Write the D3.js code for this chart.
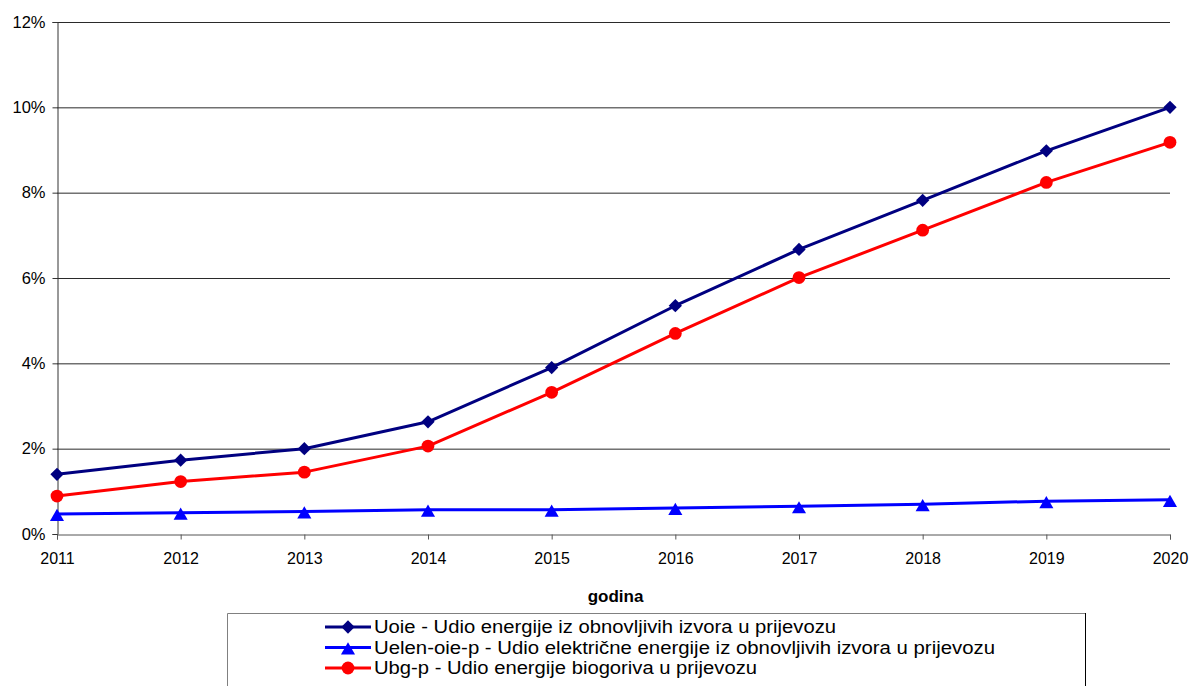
<!DOCTYPE html>
<html>
<head>
<meta charset="utf-8">
<script src="https://cdn.jsdelivr.net/npm/d3@7"></script>
<style>
  html, body { margin: 0; padding: 0; background: #fff; }
  svg { display: block; font-family: "Liberation Sans", Arial, sans-serif; }
</style>
</head>
<body>
<svg id="chart" width="1191" height="686"></svg>
<script>
// Years on the x axis
const years = ["2011", "2012", "2013", "2014", "2015", "2016", "2017", "2018", "2019", "2020"];

// Shares in percent
const uoie     = [1.40, 1.73, 2.00, 2.63, 3.90, 5.35, 6.67, 7.82, 8.98, 10.00];
const uelenOie = [0.47, 0.50, 0.53, 0.57, 0.57, 0.61, 0.65, 0.70, 0.77, 0.80];
const ubg      = [0.89, 1.23, 1.45, 2.06, 3.32, 4.70, 6.01, 7.12, 8.24, 9.18];

const yTicks = [0, 2, 4, 6, 8, 10, 12];

const seriesNames = [
  "Uoie - Udio energije iz obnovljivih izvora u prijevozu",
  "Uelen-oie-p - Udio električne energije iz obnovljivih izvora u prijevozu",
  "Ubg-p - Udio energije biogoriva u prijevozu"
];

const series = [
  { name: seriesNames[0], values: uoie,     color: "#000080", symbol: "diamond",  labelWidth: 462 },
  { name: seriesNames[1], values: uelenOie, color: "#0000ff", symbol: "triangle", labelWidth: 621 },
  { name: seriesNames[2], values: ubg,      color: "#ff0000", symbol: "circle",   labelWidth: 383 }
];

const svg = d3.select("#chart");
const plot = { left: 57, right: 1170, top: 22, bottom: 534 };

const x = d3.scalePoint().domain(years).range([plot.left, plot.right]).padding(0);
const y = d3.scaleLinear().domain([0, 12]).range([plot.bottom, plot.top]);

// Horizontal gridlines
svg.append("g")
  .selectAll("line")
  .data(yTicks.filter(d => d > 0))
  .join("line")
  .attr("x1", plot.left).attr("x2", plot.right)
  .attr("y1", d => y(d) + 0.5).attr("y2", d => y(d) + 0.5)
  .attr("stroke", "#2a2a2a").attr("stroke-width", 1);

// Y axis
const yAxis = svg.append("g")
  .attr("transform", `translate(${plot.left + 0.5},0)`)
  .call(d3.axisLeft(y).tickValues(yTicks).tickFormat(d => d + "%").tickSize(5).tickPadding(7));
yAxis.select(".domain").attr("stroke", "#333");
yAxis.selectAll(".tick line").attr("stroke", "#333");
yAxis.selectAll("text").attr("font-size", 16.5).attr("fill", "#000")
  .attr("font-family", "'Liberation Sans', Arial, sans-serif");

// X axis
const xAxis = svg.append("g")
  .attr("transform", `translate(0,${plot.bottom + 0.5})`)
  .call(d3.axisBottom(x).tickSize(5).tickPadding(13));
xAxis.select(".domain").attr("stroke", "#555");
xAxis.selectAll(".tick line").attr("stroke", "#555");
xAxis.selectAll("text").attr("font-size", 16).attr("fill", "#000")
  .attr("font-family", "'Liberation Sans', Arial, sans-serif");

// Axis title
svg.append("text")
  .attr("x", (plot.left + plot.right) / 2 + 2)
  .attr("y", 602)
  .attr("text-anchor", "middle")
  .attr("font-size", 17).attr("font-weight", "bold")
  .text("godina");

function markerPath(kind) {
  if (kind === "diamond") return d3.symbol(d3.symbolSquare, 88)();
  if (kind === "triangle") return d3.symbol(d3.symbolTriangle, 86)();
  return d3.symbol(d3.symbolCircle, 128)();
}
function markerTransform(kind, px, py) {
  if (kind === "diamond") return `translate(${px},${py}) rotate(45)`;
  if (kind === "triangle") return `translate(${px},${py + 3})`;
  return `translate(${px},${py})`;
}

const line = d3.line().x((d, i) => x(years[i])).y(d => y(d));

series.forEach(s => {
  const g = svg.append("g");
  g.append("path")
    .attr("d", line(s.values))
    .attr("fill", "none")
    .attr("stroke", s.color)
    .attr("stroke-width", 3)
    .attr("stroke-linejoin", "round");
  g.selectAll("path.mk")
    .data(s.values)
    .join("path")
    .attr("class", "mk")
    .attr("d", markerPath(s.symbol))
    .attr("transform", (d, i) => markerTransform(s.symbol, x(years[i]), y(d)))
    .attr("fill", s.color);
});

// Legend
const legend = svg.append("g");
legend.append("path")
  .attr("d", "M227.5,700 V613.5 H1085.5 V700")
  .attr("fill", "none").attr("stroke", "#808080").attr("stroke-width", 1);
legend.append("line")
  .attr("x1", 1085.5).attr("x2", 1085.5).attr("y1", 613).attr("y2", 700)
  .attr("stroke", "#000").attr("stroke-width", 1);

const rowY = [627, 647.5, 668];
series.forEach((s, i) => {
  const ly = rowY[i];
  legend.append("line")
    .attr("x1", 325).attr("x2", 371).attr("y1", ly).attr("y2", ly)
    .attr("stroke", s.color).attr("stroke-width", 3);
  legend.append("path")
    .attr("d", markerPath(s.symbol))
    .attr("transform", markerTransform(s.symbol, 348, ly))
    .attr("fill", s.color);
  legend.append("text")
    .attr("x", 374).attr("y", ly + 6)
    .attr("font-size", 17.5)
    .attr("textLength", s.labelWidth)
    .attr("lengthAdjust", "spacingAndGlyphs")
    .text(s.name);
});
</script>
</body>
</html>
